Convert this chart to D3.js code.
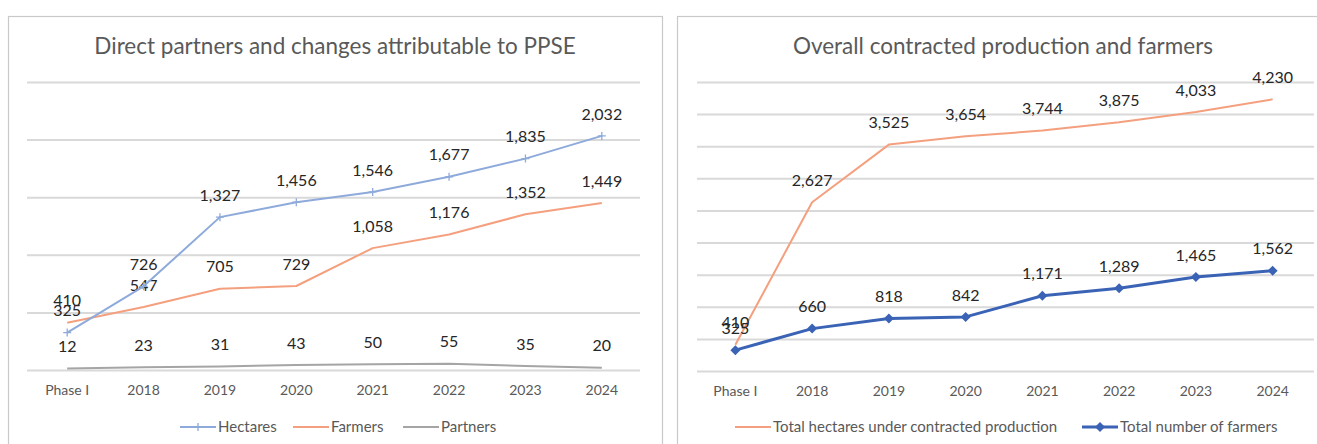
<!DOCTYPE html>
<html><head><meta charset="utf-8">
<script src="https://cdn.jsdelivr.net/npm/d3@7"></script>
<style>
html,body{margin:0;padding:0;background:#fff;}
svg{display:block;}
text{font-family:Lato,"Open Sans",sans-serif;}
</style></head>
<body>
<svg id="c" width="1317" height="444"></svg>
<script>
const categories = ["Phase I","2018","2019","2020","2021","2022","2023","2024"];
const hectares = [325,726,1327,1456,1546,1677,1835,2032];
const farmers = [410,547,705,729,1058,1176,1352,1449];
const partners = [12,23,31,43,50,55,35,20];
const leftTicks = [0,500,1000,1500,2000,2500];
const totalHectares = [410,2627,3525,3654,3744,3875,4033,4230];
const totalFarmers = [325,660,818,842,1171,1289,1465,1562];
const rightTicks = [0,500,1000,1500,2000,2500,3000,3500,4000,4500];

const svg = d3.select("#c");
const fmt = d3.format(",");

function panel(cfg){
  const g = svg.append("g");
  g.append("rect").attr("x",cfg.box[0]+0.5).attr("y",16.5).attr("width",cfg.box[1]-cfg.box[0]).attr("height",460)
    .attr("fill","#fff").attr("stroke","#c9c9c9").attr("stroke-width",1.2);
  g.append("text").attr("x",cfg.titleX).attr("y",54).attr("text-anchor","middle")
    .attr("font-size",22.5).attr("fill","#595959").text(cfg.title);
  const x = d3.scaleBand().domain(categories).range(cfg.xr);
  const y = d3.scaleLinear().domain([0,d3.max(cfg.ticks)]).range(cfg.yr);
  const gg = g.append("g").attr("transform",`translate(${cfg.gx[1]},0)`).call(d3.axisRight(y).tickValues(cfg.ticks).tickSize(-(cfg.gx[1]-cfg.gx[0])).tickFormat(""));
  gg.select(".domain").remove();
  gg.selectAll(".tick line").attr("stroke","#d9d9d9").attr("stroke-width",2);
  const xa = g.append("g").attr("transform",`translate(0,${cfg.yr[0]})`).call(d3.axisBottom(x).tickSize(0).tickPadding(15));
  xa.select(".domain").remove();
  xa.selectAll("text").attr("font-size",14).attr("fill","#595959").style("font-family","Lato,'Open Sans',sans-serif");
  const cx = c => x(c)+x.bandwidth()/2;
  cfg.series.forEach(s=>{
    const line = d3.line().x((d,i)=>cx(categories[i])).y(d=>y(d));
    g.append("path").datum(s.values).attr("d",line).attr("fill","none")
      .attr("stroke",s.color).attr("stroke-width",s.width).attr("stroke-linejoin","round");
    if(s.marker==="plus"){
      g.selectAll(null).data(s.values).enter().append("path")
        .attr("d",(d,i)=>{const px=cx(categories[i]),py=y(d);return `M${px-4},${py}H${px+4}M${px},${py-4}V${py+4}`;})
        .attr("stroke",s.color).attr("stroke-width",1.3);
    } else if(s.marker==="diamond"){
      g.selectAll(null).data(s.values).enter().append("path")
        .attr("d",(d,i)=>{const px=cx(categories[i]),py=y(d);return `M${px},${py-5}L${px+5},${py}L${px},${py+5}L${px-5},${py}Z`;})
        .attr("fill",s.color);
    }
    g.selectAll(null).data(s.values).enter().append("text")
      .attr("x",(d,i)=>cx(categories[i])).attr("y",d=>y(d)-22)
      .attr("dy","0.35em").attr("text-anchor","middle").attr("font-size",16).attr("fill","#262626")
      .text(d=>fmt(d));
  });
  cfg.legend.forEach(l=>{
    const s = l.s;
    g.append("line").attr("x1",l.x).attr("x2",l.x+36).attr("y1",427).attr("y2",427)
      .attr("stroke",s.color).attr("stroke-width",s.width);
    const mx=l.x+18;
    if(s.marker==="plus") g.append("path").attr("d",`M${mx-4},427H${mx+4}M${mx},423V431`).attr("stroke",s.color).attr("stroke-width",1.3);
    if(s.marker==="diamond") g.append("path").attr("d",`M${mx},422L${mx+5},427L${mx},432L${mx-5},427Z`).attr("fill",s.color);
    g.append("text").attr("x",l.x+38).attr("y",427).attr("dy","0.35em").attr("font-size",15).attr("fill","#595959").text(l.label);
  });
}

const sH = {values:hectares,color:"#8eaadb",width:2,marker:"plus"};
const sF = {values:farmers,color:"#f4a07f",width:2};
const sP = {values:partners,color:"#a5a5a5",width:2};
panel({box:[8,662],title:"Direct partners and changes attributable to PPSE",titleX:335,
  xr:[29,640],yr:[370,82],gx:[27,640],ticks:leftTicks,
  series:[sP,sF,sH],
  legend:[{x:180,s:sH,label:"Hectares"},{x:293,s:sF,label:"Farmers"},{x:403,s:sP,label:"Partners"}]});

const sT = {values:totalHectares,color:"#f4a07f",width:2};
const sN = {values:totalFarmers,color:"#3a63b5",width:3,marker:"diamond"};
panel({box:[677,1330],title:"Overall contracted production and farmers",titleX:1003,
  xr:[697,1311],yr:[371,82],gx:[697,1314],ticks:rightTicks,
  series:[sT,sN],
  legend:[{x:735,s:sT,label:"Total hectares under contracted production"},{x:1082,s:sN,label:"Total number of farmers"}]});
</script>
</body></html>
